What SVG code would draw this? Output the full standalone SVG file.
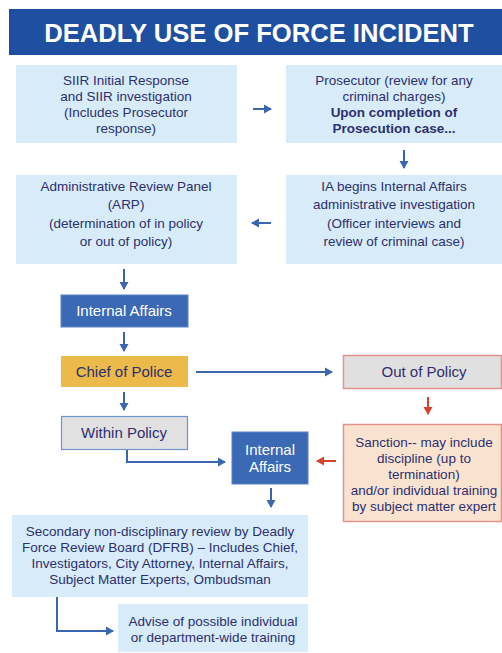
<svg xmlns="http://www.w3.org/2000/svg" width="502" height="653" viewBox="0 0 502 653">
<defs>
<style>
.t{font-family:"Liberation Sans",Arial,sans-serif;font-size:13.5px;fill:#2d2f6e;text-anchor:middle}
.b{font-weight:bold}
.w{fill:#ffffff}
.lb{fill:#d7ecf8}
.ia{fill:#3b69b3;stroke:#5a84c8;stroke-width:1}
.ab{stroke:#3a66b0;stroke-width:2;fill:none}
.ar{stroke:#d8432b;stroke-width:2;fill:none}
</style>
<marker id="mb" markerWidth="10" markerHeight="10" refX="7" refY="5" orient="auto" markerUnits="userSpaceOnUse"><path d="M0,0.5 L8,5 L0,9.5 Z" fill="#3a66b0"/></marker>
<marker id="mr" markerWidth="10" markerHeight="10" refX="7" refY="5" orient="auto" markerUnits="userSpaceOnUse"><path d="M0,0.5 L8,5 L0,9.5 Z" fill="#d8432b"/></marker>
</defs>
<rect width="502" height="653" fill="#ffffff"/>
<g id="title">
<rect x="9" y="9" width="493" height="46" fill="#1f4fa1"/>
<text x="259" y="41.5" class="t b w" style="font-size:25.6px">DEADLY USE OF FORCE INCIDENT</text>
</g>
<g id="siir">
<rect x="16" y="65" width="221" height="78" class="lb"/>
<text class="t" x="126"><tspan x="126" y="85">SIIR Initial Response</tspan><tspan x="126" y="101">and SIIR investigation</tspan><tspan x="126" y="117">(Includes Prosecutor</tspan><tspan x="126" y="133">response)</tspan></text>
</g>
<g id="prosecutor">
<rect x="286" y="65" width="216" height="78" class="lb"/>
<text class="t" x="394"><tspan x="394" y="85">Prosecutor (review for any</tspan><tspan x="394" y="101">criminal charges)</tspan><tspan x="394" y="117" class="b">Upon completion of</tspan><tspan x="394" y="133" class="b">Prosecution case...</tspan></text>
</g>
<g id="arp">
<rect x="16" y="175" width="221" height="89" class="lb"/>
<text class="t" x="126"><tspan x="126" y="191">Administrative Review Panel</tspan><tspan x="126" y="209">(ARP)</tspan><tspan x="126" y="228">(determination of in policy</tspan><tspan x="126" y="246">or out of policy)</tspan></text>
</g>
<g id="ia-investigation">
<rect x="286" y="175" width="216" height="89" class="lb"/>
<text class="t" x="394"><tspan x="394" y="191">IA begins Internal Affairs</tspan><tspan x="394" y="209">administrative investigation</tspan><tspan x="394" y="228">(Officer interviews and</tspan><tspan x="394" y="246">review of criminal case)</tspan></text>
</g>
<g id="internal-affairs-1">
<rect x="61" y="295" width="127" height="32" class="ia"/>
<text class="t w" x="124" y="316" style="font-size:15px">Internal Affairs</text>
</g>
<g id="chief">
<rect x="61" y="356" width="127" height="31" fill="#ecb94b"/>
<text class="t" x="124" y="377" style="font-size:15px">Chief of Police</text>
</g>
<g id="out-of-policy">
<rect x="343.5" y="355.5" width="158" height="33" fill="#e0e0e0" stroke="#e3938b" stroke-width="1.5"/>
<text class="t" x="424" y="377" style="font-size:15px">Out of Policy</text>
</g>
<g id="within-policy">
<rect x="61.5" y="416.5" width="126" height="33" fill="#e1e1e1" stroke="#6f93cf" stroke-width="1.2"/>
<text class="t" x="124" y="438" style="font-size:15px">Within Policy</text>
</g>
<g id="internal-affairs-2">
<rect x="232" y="432" width="76" height="52" class="ia"/>
<text class="t w" x="270" style="font-size:15px"><tspan x="270" y="455">Internal</tspan><tspan x="270" y="472">Affairs</tspan></text>
</g>
<g id="sanction">
<rect x="343.5" y="424.5" width="158" height="97" fill="#f9e3d0" stroke="#e3938b" stroke-width="1.5"/>
<text class="t" x="424"><tspan x="424" y="447">Sanction-- may include</tspan><tspan x="424" y="463">discipline (up to</tspan><tspan x="424" y="479">termination)</tspan><tspan x="424" y="495">and/or individual training</tspan><tspan x="424" y="511">by subject matter expert</tspan></text>
</g>
<g id="dfrb">
<rect x="12" y="515" width="296" height="82" class="lb"/>
<text class="t" x="160"><tspan x="160" y="536">Secondary non-disciplinary review by Deadly</tspan><tspan x="160" y="552">Force Review Board (DFRB) – Includes Chief,</tspan><tspan x="160" y="568">Investigators, City Attorney, Internal Affairs,</tspan><tspan x="160" y="584">Subject Matter Experts, Ombudsman</tspan></text>
</g>
<g id="advise">
<rect x="118" y="604" width="190" height="48" class="lb"/>
<text class="t" x="213"><tspan x="213" y="626">Advise of possible individual</tspan><tspan x="213" y="642">or department-wide training</tspan></text>
</g>
<g id="connectors">
<path class="ab" d="M253,109 H271" marker-end="url(#mb)"/>
<path class="ab" d="M404,150 V168" marker-end="url(#mb)"/>
<path class="ab" d="M271,223 H252" marker-end="url(#mb)"/>
<path class="ab" d="M124,269 V289" marker-end="url(#mb)"/>
<path class="ab" d="M124,332 V351" marker-end="url(#mb)"/>
<path class="ab" d="M196,372 H332" marker-end="url(#mb)"/>
<path class="ab" d="M124,392 V410" marker-end="url(#mb)"/>
<path class="ab" d="M127,450 V462 H225" marker-end="url(#mb)"/>
<path class="ar" d="M428,397 V414" marker-end="url(#mr)"/>
<path class="ar" d="M336,461 H317" marker-end="url(#mr)"/>
<path class="ab" d="M271,488 V507" marker-end="url(#mb)"/>
<path class="ab" d="M57,597 V631 H113" marker-end="url(#mb)"/>
</g>
</svg>
